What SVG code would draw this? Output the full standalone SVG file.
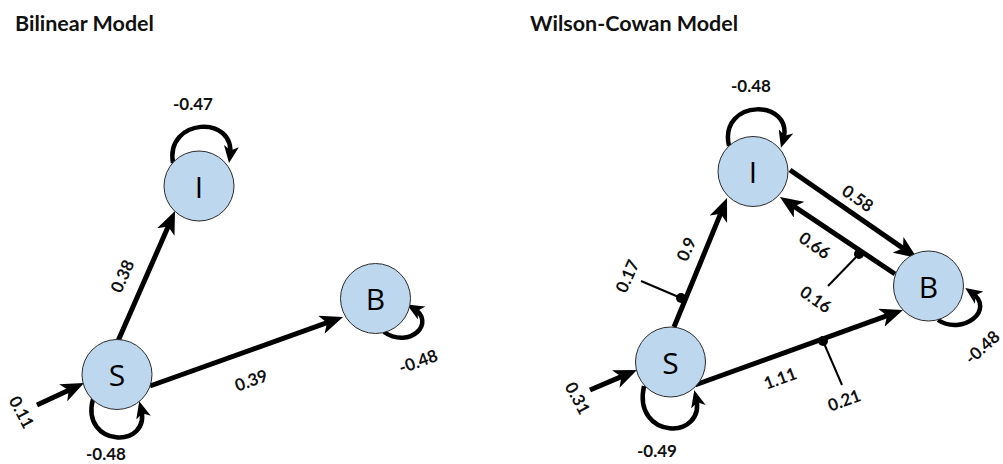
<svg xmlns="http://www.w3.org/2000/svg" width="1003" height="464" viewBox="0 0 1003 464">
<style>
.title{font-family:Lato,"Liberation Sans",sans-serif;font-weight:bold;font-size:21.5px;fill:#111}
.lbl{font-family:Lato,"Liberation Sans",sans-serif;font-weight:bold;font-size:17px;fill:#111;text-anchor:middle;dominant-baseline:central}
.node circle{fill:#bdd7ee;stroke:#2b2b2b;stroke-width:1}
.node text{font-family:"Open Sans","Noto Sans",sans-serif;font-size:30px;fill:#000;text-anchor:middle;dominant-baseline:central}
.edge{fill:none;stroke:#000;stroke-width:5;marker-end:url(#ah)}
.loop{fill:none;stroke:#000;stroke-width:4.5;marker-end:url(#lh)}
.mod{fill:none;stroke:#000;stroke-width:2}
</style>
<defs>
<marker id="ah" markerUnits="userSpaceOnUse" markerWidth="23" markerHeight="19" viewBox="0 0 23 19" refX="15" refY="9.5" orient="auto"><path d="M0,0 L23,9.5 L0,19 L6,9.5 z" fill="#000"/></marker>
<marker id="lh" markerUnits="userSpaceOnUse" markerWidth="17" markerHeight="15" viewBox="0 0 17 15" refX="10" refY="7.5" orient="auto"><path d="M0,0 L17,7.5 L0,15 L4.5,7.5 z" fill="#000"/></marker>
</defs>
<text class="title" x="15" y="31">Bilinear Model</text>
<text class="title" x="530" y="31">Wilson-Cowan Model</text>
<g id="connectors">
<line class="edge" x1="118" y1="341" x2="171.8" y2="218.3"/>
<line class="edge" x1="150" y1="386" x2="335.5" y2="319.7"/>
<line class="edge" x1="37" y1="405" x2="76.8" y2="386.4"/>
<path class="loop" d="M173,163 C165,118 236,114 230,156"/>
<path class="loop" d="M93,399 C80,447 152,450 141,408"/>
<path class="loop" d="M384,332 C410,350 437,322 413,308"/>
<line class="edge" x1="790" y1="170" x2="910.4" y2="253.4"/>
<line class="edge" x1="895" y1="274" x2="786.6" y2="201.4"/>
<line class="edge" x1="674" y1="327" x2="724" y2="205.4"/>
<line class="edge" x1="695" y1="385" x2="895.5" y2="312.7"/>
<line class="edge" x1="590" y1="390" x2="629.6" y2="373.1"/>
<path class="loop" d="M729,146 C718,98 796,98 783,141"/>
<path class="loop" d="M644,386 C632,440 707,441 696,397"/>
<path class="loop" d="M938,320 C962,336 997,310 971,292"/>
<line class="mod" x1="859" y1="254" x2="828" y2="286"/>
<circle cx="859" cy="254" r="5" fill="#000"/>
<line class="mod" x1="681" y1="298" x2="641" y2="281"/>
<circle cx="681" cy="298" r="5" fill="#000"/>
<line class="mod" x1="823" y1="341" x2="842" y2="385"/>
<circle cx="823" cy="341" r="5" fill="#000"/>
</g>
<g id="left-labels">
<text class="lbl" x="193" y="103">-0.47</text>
<text class="lbl" transform="rotate(-66 122 276)" x="122" y="276">0.38</text>
<text class="lbl" transform="rotate(-20 251 380)" x="251" y="380">0.39</text>
<text class="lbl" transform="rotate(62 22 412)" x="22" y="412">0.11</text>
<text class="lbl" x="106" y="453">-0.48</text>
<text class="lbl" transform="rotate(-20 418 361)" x="418" y="361">-0.48</text>
</g>
<g id="right-labels">
<text class="lbl" x="751" y="85">-0.48</text>
<text class="lbl" transform="rotate(35 858 198)" x="858" y="198">0.58</text>
<text class="lbl" transform="rotate(35 815 245)" x="815" y="245">0.66</text>
<text class="lbl" transform="rotate(35 816 299)" x="816" y="299">0.16</text>
<text class="lbl" transform="rotate(-66 686 249)" x="686" y="249">0.9</text>
<text class="lbl" transform="rotate(-66 627 276)" x="627" y="276">0.17</text>
<text class="lbl" transform="rotate(-20 780 378)" x="780" y="378">1.11</text>
<text class="lbl" transform="rotate(-20 844 400)" x="844" y="400">0.21</text>
<text class="lbl" transform="rotate(62 578 398)" x="578" y="398">0.31</text>
<text class="lbl" x="657" y="450">-0.49</text>
<text class="lbl" transform="rotate(-42 982 347)" x="982" y="347">-0.48</text>
</g>
<g id="node-L-I" class="node"><circle cx="199" cy="186" r="35"/><text x="199" y="186">I</text></g>
<g id="node-L-S" class="node"><circle cx="117" cy="374.5" r="35"/><text x="117" y="374.5">S</text></g>
<g id="node-L-B" class="node"><circle cx="375.5" cy="298.5" r="35"/><text x="375.5" y="298.5">B</text></g>
<g id="node-R-I" class="node"><circle cx="753" cy="171.5" r="35"/><text x="753" y="171.5">I</text></g>
<g id="node-R-S" class="node"><circle cx="670.5" cy="362" r="35"/><text x="670.5" y="362">S</text></g>
<g id="node-R-B" class="node"><circle cx="928.5" cy="286" r="35"/><text x="928.5" y="286">B</text></g>
</svg>
